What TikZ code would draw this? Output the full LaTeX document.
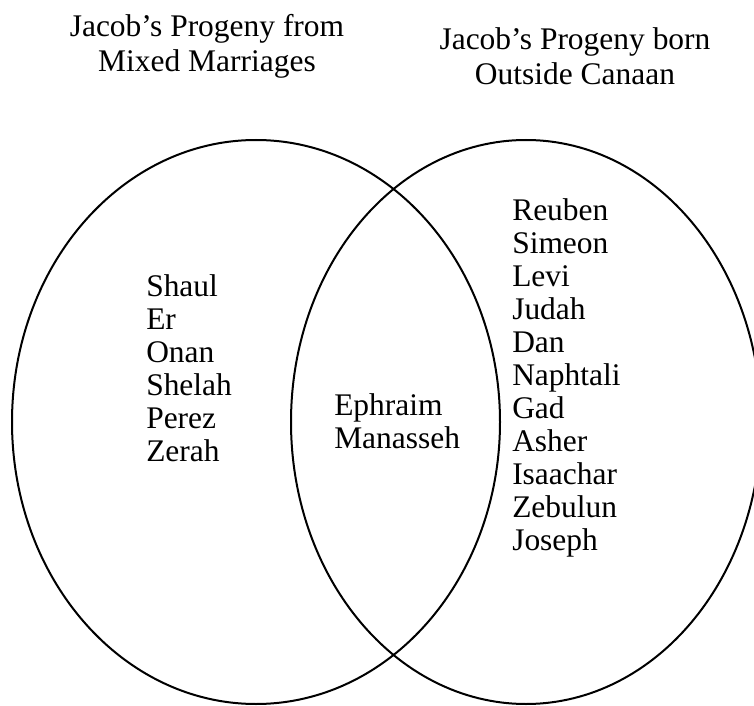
\documentclass[tikz,border=0pt]{standalone}
\usepackage{fontspec}
\setmainfont{Liberation Serif}
\begin{document}
\begin{tikzpicture}[x=0.75pt,y=-0.75pt,
  ring/.style={draw=black,line width=1.5pt},
  lbl/.style={inner sep=0pt,font=\fontsize{23.6}{24.75}\selectfont},
  lst/.style={lbl,align=left,anchor=north west},
  ttl/.style={inner sep=0pt,font=\fontsize{23.6}{26.25}\selectfont,align=center,anchor=north}]
\useasboundingbox (0,0) rectangle (754,706);
\draw[ring] (256,422) ellipse [x radius=244, y radius=282];
\draw[ring] (526,422) ellipse [x radius=235, y radius=282];
\node[ttl] (t1) at (207,14) {Jacob’s Progeny from\\Mixed Marriages};
\node[ttl] (t2) at (575,27) {Jacob’s Progeny born\\Outside Canaan};
\node[lst] (left) at (146,274) {Shaul\\Er\\Onan\\Shelah\\Perez\\Zerah};
\node[lst] (mid) at (334,393) {Ephraim\\Manasseh};
\node[lst] (right) at (512,198) {Reuben\\Simeon\\Levi\\Judah\\Dan\\Naphtali\\Gad\\Asher\\Isaachar\\Zebulun\\Joseph};
\end{tikzpicture}
\end{document}
